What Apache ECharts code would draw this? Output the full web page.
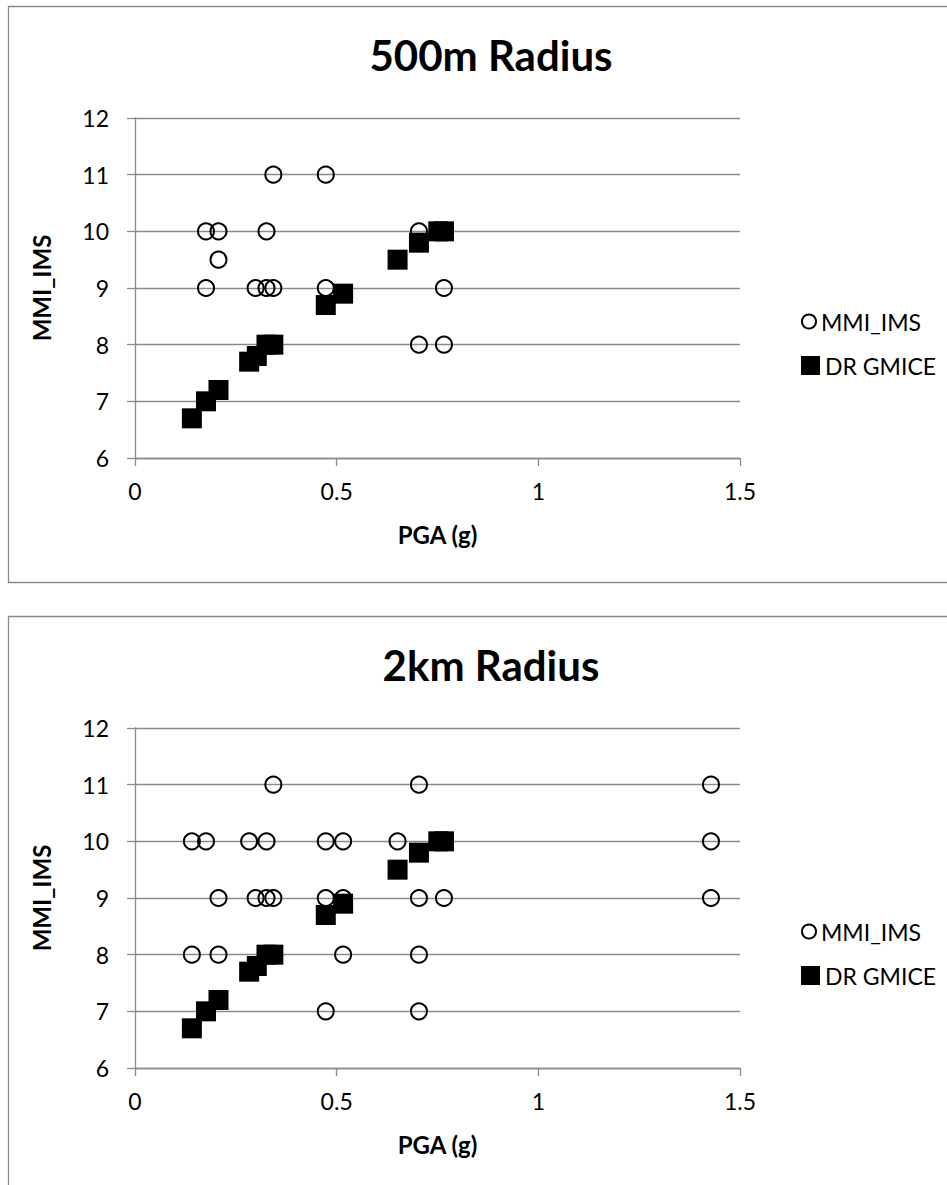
<!DOCTYPE html>
<html>
<head>
<meta charset="utf-8">
<script src="https://cdn.jsdelivr.net/npm/echarts@6/dist/echarts.min.js"></script>
<style>
  html, body { margin: 0; padding: 0; background: #ffffff; }
  #chart { width: 947px; height: 1185px; }
</style>
</head>
<body>
<div id="chart"></div>
<script>
// Panel titles and series names
const panelTitles = ['500m Radius', '2km Radius'];
const seriesNames = ['MMI_IMS', 'DR GMICE'];

// Axis ranges (PGA in g, MMI intensity): [min, max, interval]
const pgaRange = [0, 1.5, 0.5];
const mmiRange = [6, 12, 1];

// 500 m radius: observed intensity [PGA, MMI]
const mmi500 = [
  [0.176, 10], [0.207, 10], [0.207, 9.5], [0.176, 9],
  [0.343, 11], [0.473, 11], [0.326, 10],
  [0.299, 9], [0.326, 9], [0.343, 9], [0.473, 9],
  [0.704, 10], [0.766, 9], [0.704, 8], [0.766, 8]
];
// 500 m radius: GMICE estimate [PGA, MMI]
const gmice500 = [
  [0.141, 6.7], [0.176, 7.0], [0.207, 7.2], [0.283, 7.7], [0.302, 7.8],
  [0.326, 8.0], [0.343, 8.0], [0.473, 8.7], [0.516, 8.9], [0.651, 9.5],
  [0.704, 9.8], [0.752, 10.0], [0.766, 10.0]
];

// 2 km radius: observed intensity [PGA, MMI]
const mmi2km = [
  [0.343, 11], [0.704, 11], [1.428, 11],
  [0.141, 10], [0.176, 10], [0.283, 10], [0.326, 10], [0.473, 10],
  [0.516, 10], [0.651, 10], [1.428, 10],
  [0.207, 9], [0.299, 9], [0.326, 9], [0.343, 9], [0.473, 9],
  [0.516, 9], [0.704, 9], [0.766, 9], [1.428, 9],
  [0.141, 8], [0.207, 8], [0.516, 8], [0.704, 8],
  [0.473, 7], [0.704, 7]
];
// 2 km radius: GMICE estimate [PGA, MMI]
const gmice2km = [
  [0.141, 6.7], [0.176, 7.0], [0.207, 7.2], [0.283, 7.7], [0.302, 7.8],
  [0.326, 8.0], [0.343, 8.0], [0.473, 8.7], [0.516, 8.9], [0.651, 9.5],
  [0.704, 9.8], [0.752, 10.0], [0.766, 10.0]
];

const panels = [
  { title: panelTitles[0], mmi: mmi500, gmice: gmice500 },
  { title: panelTitles[1], mmi: mmi2km, gmice: gmice2km }
];

// Layout
const PANEL_TOP = [6, 616];
const PANEL_H = 576;
const PLOT_TOP = 112;      // plot top relative to panel
const PLOT_LEFT = 135;
const PLOT_W = 605;
const PLOT_H = 340;

const FONT = 'Lato, "Open Sans", sans-serif';
const GRID_GRAY = '#8a8a8a';

const chart = echarts.init(document.getElementById('chart'), null, { renderer: 'svg' });

const grid = [], xAxis = [], yAxis = [], series = [], title = [], legend = [], graphic = [];

panels.forEach((p, i) => {
  const top0 = PANEL_TOP[i];

  // panel frame
  graphic.push({
    type: 'rect', silent: true, z: -10,
    shape: { x: 8.5, y: top0 + 0.5, width: 960, height: PANEL_H },
    style: { fill: 'none', stroke: GRID_GRAY, lineWidth: 1.3 }
  });

  title.push({
    text: p.title,
    left: 486, top: top0 + 23, textAlign: 'center',
    textStyle: { fontFamily: FONT, fontWeight: 'bold', fontSize: 42, color: '#000' }
  });

  grid.push({ left: PLOT_LEFT, top: top0 + PLOT_TOP, width: PLOT_W, height: PLOT_H });

  xAxis.push({
    type: 'value', gridIndex: i,
    min: pgaRange[0], max: pgaRange[1], interval: pgaRange[2],
    name: 'PGA (g)', nameLocation: 'middle', nameGap: 64,
    nameTextStyle: { fontFamily: FONT, fontWeight: 'bold', fontSize: 24, color: '#000' },
    axisLine: { show: true, lineStyle: { color: GRID_GRAY, width: 1.3 } },
    axisTick: { show: true, length: 8, lineStyle: { color: GRID_GRAY, width: 1.3 } },
    axisLabel: { margin: 21, fontFamily: FONT, fontSize: 23, color: '#000' },
    splitLine: { show: false }
  });

  yAxis.push({
    type: 'value', gridIndex: i,
    min: mmiRange[0], max: mmiRange[1], interval: mmiRange[2],
    name: 'MMI_IMS', nameLocation: 'middle', nameGap: 82, nameRotate: 90,
    nameTextStyle: { fontFamily: FONT, fontWeight: 'bold', fontSize: 24, color: '#000' },
    axisLine: { show: true, lineStyle: { color: GRID_GRAY, width: 1.3 } },
    axisTick: { show: true, length: 8, lineStyle: { color: GRID_GRAY, width: 1.3 } },
    axisLabel: { margin: 26, fontFamily: FONT, fontSize: 23, color: '#000' },
    splitLine: { show: true, lineStyle: { color: GRID_GRAY, width: 1.3 } }
  });

  series.push({
    name: seriesNames[0], type: 'scatter', xAxisIndex: i, yAxisIndex: i,
    symbol: 'circle', symbolSize: 16,
    itemStyle: { color: 'rgba(0,0,0,0)', borderColor: '#000', borderWidth: 2, opacity: 1 },
    emphasis: { disabled: true },
    data: p.mmi, z: 2
  });
  series.push({
    name: seriesNames[1], type: 'scatter', xAxisIndex: i, yAxisIndex: i,
    symbol: 'rect', symbolSize: 20,
    itemStyle: { color: '#000', opacity: 1 },
    emphasis: { disabled: true },
    data: p.gmice, z: 3
  });

  const legendText = { fontFamily: FONT, fontSize: 23, color: '#000' };
  legend.push({
    left: 796, top: top0 + 299, orient: 'vertical',
    itemWidth: 14, itemHeight: 14, selectedMode: false,
    textStyle: legendText,
    data: [{ name: seriesNames[0], icon: 'circle',
             itemStyle: { color: 'rgba(0,0,0,0)', borderColor: '#000', borderWidth: 2 } }]
  });
  legend.push({
    left: 796, top: top0 + 343, orient: 'vertical',
    itemWidth: 19, itemHeight: 19, selectedMode: false,
    textStyle: legendText,
    data: [{ name: seriesNames[1], icon: 'rect', itemStyle: { color: '#000' } }]
  });
});

chart.setOption({
  animation: false,
  backgroundColor: '#ffffff',
  title, grid, xAxis, yAxis, series, legend, graphic
});
</script>
</body>
</html>
